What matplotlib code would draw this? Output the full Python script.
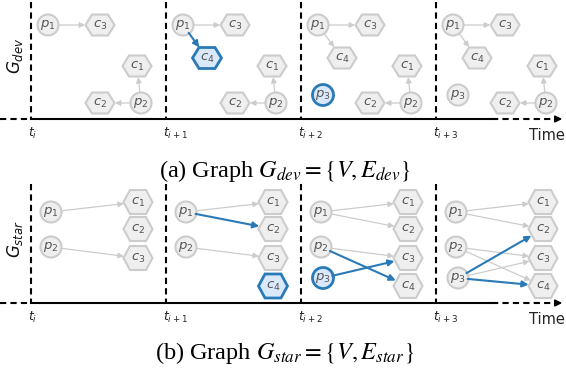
import matplotlib
matplotlib.use("Agg")
import matplotlib.pyplot as plt
from matplotlib.patches import Circle, Polygon

# ---- data ----
time_labels = [r"$t_i$", r"$t_{i+1}$", r"$t_{i+2}$", r"$t_{i+3}$"]
# graph (a): nodes present, edges, highlighted items per time step
dev_nodes = [["p1", "c3", "c1", "c2", "p2"],
             ["p1", "c3", "c4", "c1", "c2", "p2"],
             ["p1", "c3", "c4", "p3", "c1", "c2", "p2"],
             ["p1", "c3", "c4", "p3", "c1", "c2", "p2"]]
dev_edges = [[("p1", "c3"), ("p2", "c1"), ("p2", "c2")],
             [("p1", "c3"), ("p1", "c4"), ("p2", "c1"), ("p2", "c2")],
             [("p1", "c3"), ("p1", "c4"), ("p2", "c1"), ("p2", "c2")],
             [("p1", "c3"), ("p1", "c4"), ("p2", "c1"), ("p2", "c2")]]
dev_new_nodes = [[], ["c4"], ["p3"], []]
dev_new_edges = [[], [("p1", "c4")], [], []]
# graph (b)
star_nodes = [["p1", "p2", "c1", "c2", "c3"],
              ["p1", "p2", "c1", "c2", "c3", "c4"],
              ["p1", "p2", "p3", "c1", "c2", "c3", "c4"],
              ["p1", "p2", "p3", "c1", "c2", "c3", "c4"]]
star_edges = [[("p1", "c1"), ("p2", "c3")],
              [("p1", "c1"), ("p1", "c2"), ("p2", "c3")],
              [("p1", "c1"), ("p1", "c2"), ("p2", "c3"), ("p2", "c4"), ("p3", "c3")],
              [("p1", "c1"), ("p1", "c2"), ("p2", "c3"), ("p2", "c4"), ("p3", "c3"),
               ("p3", "c2"), ("p3", "c4")]]
star_new_nodes = [[], ["c4"], ["p3"], []]
star_new_edges = [[], [("p1", "c2")], [("p2", "c4"), ("p3", "c3")], [("p3", "c2"), ("p3", "c4")]]

# ---- layout ----
W, H = 566, 371
fig = plt.figure(figsize=(W / 100, H / 100), dpi=100)
ax = fig.add_axes([0, 0, 1, 1])
ax.set_xlim(0, W)
ax.set_ylim(H, 0)
ax.axis("off")

tx = [31, 166, 301, 436]
dev_pos = {"p1": (17, 25), "c3": (69, 25), "c4": (41, 58), "p3": (22, 95),
           "c1": (106, 66), "c2": (69, 103), "p2": (110, 103)}
star_pos = {"p1": (20, 212), "p2": (20, 247), "p3": (22, 278),
            "c1": (107, 202), "c2": (107, 229), "c3": (107, 258), "c4": (107, 286)}

GRAY_FILL = "#efefef"
GRAY_EDGE = "#cccccc"
BLUE = "#2a7ab8"
BLUE_FILL = "#dae8fc"
TXT = "#555555"


def hexagon(cx, cy, w=29, h=21, k=6.5):
    return [(cx - w / 2, cy), (cx - w / 2 + k, cy - h / 2), (cx + w / 2 - k, cy - h / 2),
            (cx + w / 2, cy), (cx + w / 2 - k, cy + h / 2), (cx - w / 2 + k, cy + h / 2)]


def draw_graph(pos, nodes_l, edges_l, new_nodes_l, new_edges_l, hexh):
    for i, x0 in enumerate(tx):
        patches = {}
        for n in nodes_l[i]:
            cx, cy = pos[n][0] + x0, pos[n][1]
            hl = n in new_nodes_l[i]
            fc = BLUE_FILL if hl else GRAY_FILL
            ec = BLUE if hl else GRAY_EDGE
            if n.startswith("p"):
                p = Circle((cx, cy), 10.5, fc=fc, ec=ec, lw=2.0 if hl else 1.5, zorder=3)
            else:
                p = Polygon(hexagon(cx, cy, h=hexh), closed=True, fc=fc, ec=ec,
                            lw=2.0 if hl else 1.5, zorder=3)
            ax.add_patch(p)
            patches[n] = p
            ax.text(cx, cy, "$%s_{\\mathit{%s}}$" % (n[0], n[1]), ha="center", va="center",
                    fontsize=9.5, color=TXT, zorder=4, math_fontfamily="dejavusans")
        for e in edges_l[i]:
            hl = e in new_edges_l[i]
            a, b = e
            ax.annotate("", xy=(pos[b][0] + x0, pos[b][1]), xytext=(pos[a][0] + x0, pos[a][1]),
                        arrowprops=dict(arrowstyle="-|>", color=BLUE if hl else GRAY_EDGE,
                                        lw=1.5 if hl else 0.9, mutation_scale=9 if hl else 8,
                                        patchA=patches[a], patchB=patches[b],
                                        shrinkA=0, shrinkB=1),
                        zorder=5 if hl else 2)


def draw_axis(y_top, y_axis, label):
    for x0 in tx:
        ax.plot([x0, x0], [y_top, y_axis], color="black", lw=1.5, ls=(0, (3, 2)), zorder=1)
    ax.plot([0, tx[0]], [y_axis, y_axis], color="black", lw=1.5, ls=(0, (3, 2)))
    ax.plot([tx[0], 492], [y_axis, y_axis], color="black", lw=1.5)
    ax.plot([492, 556], [y_axis, y_axis], color="black", lw=1.5, ls=(0, (3, 2)))
    ax.annotate("", xy=(565, y_axis), xytext=(554, y_axis),
                arrowprops=dict(arrowstyle="-|>", color="black", lw=1.2, mutation_scale=10))
    for x0, lab in zip(tx, time_labels):
        ax.text(x0 - 3, y_axis + 14, lab, ha="left", va="center", fontsize=9,
                color="#222222", math_fontfamily="dejavusans")
    ax.text(565, y_axis + 16, "Time", ha="right", va="center", fontsize=10.5,
            family="DejaVu Sans", color="#222222")
    ax.text(15, (y_top + y_axis) / 2 - 5, label, rotation=90, ha="center", va="center",
            fontsize=12, color="#111111", math_fontfamily="dejavusans")


draw_axis(2, 119, r"$G_{dev}$")
draw_graph(dev_pos, dev_nodes, dev_edges, dev_new_nodes, dev_new_edges, 21)
draw_axis(184, 303, r"$G_{star}$")
draw_graph(star_pos, star_nodes, star_edges, star_new_nodes, star_new_edges, 24)

ax.text(285, 171, r"(a) Graph $G_{dev} = \{V, E_{dev}\}$", ha="center", va="center",
        fontsize=17.5, family="Liberation Serif", math_fontfamily="stix")
ax.text(285, 353, r"(b) Graph $G_{star} = \{V, E_{star}\}$", ha="center", va="center",
        fontsize=17.5, family="Liberation Serif", math_fontfamily="stix")

fig.savefig("out.png", dpi=100)
